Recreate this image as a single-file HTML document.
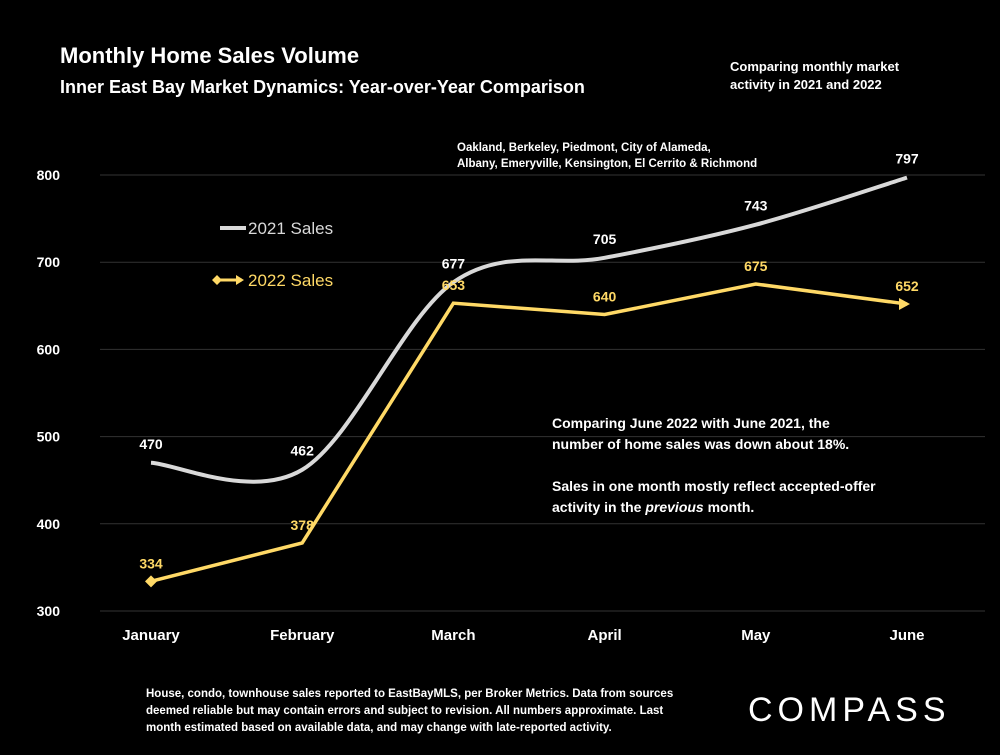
<!DOCTYPE html>
<html><head><meta charset="utf-8"><style>
body{margin:0;background:#000;width:1000px;height:750px;overflow:hidden;font-family:"Liberation Sans",sans-serif;color:#fff}
svg text{font-family:"Liberation Sans",sans-serif;font-weight:bold}
</style></head><body>
<svg width="1000" height="750">
<rect width="1000" height="750" fill="#000"/>
<text x="60" y="63" font-size="22" fill="#fff">Monthly Home Sales Volume</text>
<text x="60" y="93" font-size="18" fill="#fff">Inner East Bay Market Dynamics: Year-over-Year Comparison</text>
<text x="730" y="71" font-size="13" fill="#fff"><tspan x="730">Comparing monthly market</tspan><tspan x="730" dy="18">activity in 2021 and 2022</tspan></text>
<text x="457" y="151" font-size="11.5" fill="#fff"><tspan x="457">Oakland, Berkeley, Piedmont, City of Alameda,</tspan><tspan x="457" dy="16">Albany, Emeryville, Kensington, El Cerrito &amp; Richmond</tspan></text>
<g id="grid"></g><g id="axes"></g><g id="series"></g>
<g>
<line x1="220" y1="228" x2="246" y2="228" stroke="#d9d9d9" stroke-width="4"/>
<text x="248" y="234" font-size="17" fill="#d9d9d9" style="font-weight:normal">2021 Sales</text>
<line x1="216" y1="280" x2="242" y2="280" stroke="#ffd966" stroke-width="3"/>
<path d="M212 280 L217 275 L222 280 L217 285Z M236 275 L244 280 L236 285Z" fill="#ffd966"/>
<text x="248" y="286" font-size="17" fill="#ffd966" style="font-weight:normal">2022 Sales</text>
</g>
<text x="552" y="428" font-size="14" fill="#fff"><tspan x="552">Comparing June 2022 with June 2021, the</tspan><tspan x="552" dy="21">number of home sales was down about 18%.</tspan><tspan x="552" dy="42">Sales in one month mostly reflect accepted-offer</tspan><tspan x="552" dy="21">activity in the <tspan font-style="italic">previous</tspan> month.</tspan></text>
<text x="146" y="697" font-size="11.5" fill="#fff"><tspan x="146">House, condo, townhouse sales reported to EastBayMLS, per Broker Metrics. Data from sources</tspan><tspan x="146" dy="17">deemed reliable but may contain errors and subject to revision. All numbers approximate. Last</tspan><tspan x="146" dy="17">month estimated based on available data, and may change with late-reported activity.</tspan></text>
<text x="748" y="721" font-size="34" fill="#fff" style="font-weight:normal" letter-spacing="5">COMPASS</text>
</svg>
<script>
const categories=["January","February","March","April","May","June"];
const sales2021=[470,462,677,705,743,797];
const sales2022=[334,378,653,640,675,652];
const yTicks=[300,400,500,600,700,800];
const NS="http://www.w3.org/2000/svg";
const X=i=>151+i*151.2;
const Y=v=>611-(v-300)*0.872;
function mk(tag,attrs,parent,txt){const e=document.createElementNS(NS,tag);for(const k in attrs)e.setAttribute(k,attrs[k]);if(txt!==undefined)e.textContent=txt;document.getElementById(parent).appendChild(e);return e;}
yTicks.forEach(t=>{
 const g=mk('line',{x1:100,x2:985,y1:Y(t),y2:Y(t),stroke:'#333','stroke-width':1},'grid');
 
 
 const l=mk('text',{x:60,y:Y(t)+5,'font-size':14,fill:'#fff','text-anchor':'end'},'axes',t);
 
 
});
categories.forEach((c,i)=>{
 const l=mk('text',{x:X(i),y:640,'font-size':15,fill:'#fff','text-anchor':'middle'},'axes',c);
 
 
});
const p=sales2021.map((v,i)=>[X(i),Y(v)]);
let d=`M${p[0][0]},${p[0][1]}`;
for(let i=0;i<p.length-1;i++){const p0=p[i-1]||p[i],p1=p[i],p2=p[i+1],p3=p[i+2]||p2;const k=1/6;
 d+=` C${p1[0]+(p2[0]-p0[0])*k},${p1[1]+(p2[1]-p0[1])*k} ${p2[0]-(p3[0]-p1[0])*k},${p2[1]-(p3[1]-p1[1])*k} ${p2[0]},${p2[1]}`;}
const l1=mk('path',{d:d,fill:'none',stroke:'#d9d9d9','stroke-width':4},'series');


const l2=mk('polyline',{points:sales2022.map((v,i)=>X(i)+','+Y(v)).join(' '),fill:'none',stroke:'#ffd966','stroke-width':3.5},'series');


const x0=X(0),y0=Y(sales2022[0]);
const dm=mk('path',{d:`M${x0-6},${y0} L${x0},${y0-6} L${x0+6},${y0} L${x0},${y0+6}Z`,fill:'#ffd966'},'series');


const xn=X(5),yn=Y(sales2022[5]);
const ar=mk('path',{d:`M${xn-8},${yn-6} L${xn+3},${yn} L${xn-8},${yn+6}Z`,fill:'#ffd966'},'series');


sales2021.forEach((v,i)=>{
 const t=mk('text',{x:X(i),y:Y(v)-14,'font-size':14,fill:'#fff','text-anchor':'middle'},'series',v);
 
 
});
sales2022.forEach((v,i)=>{
 const t=mk('text',{x:X(i),y:Y(v)-13,'font-size':14,fill:'#ffd966','text-anchor':'middle'},'series',v);
 
 
});
</script>
</body></html>
